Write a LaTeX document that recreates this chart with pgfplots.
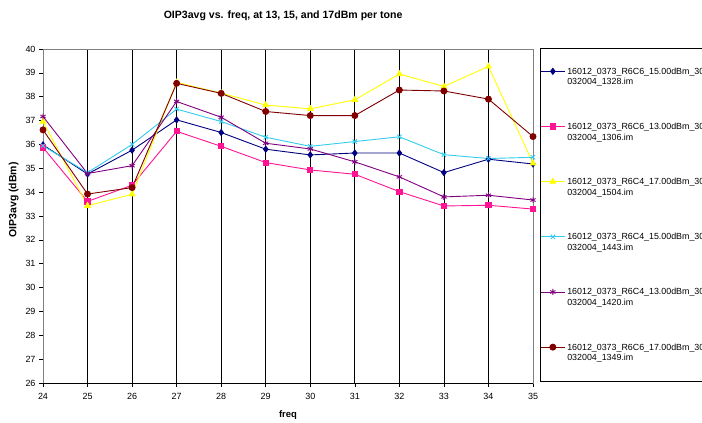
\documentclass[border=0pt]{standalone}
\usepackage{fontspec}
\setmainfont{Liberation Sans}
\usepackage{pgfplots}
\pgfplotsset{compat=1.18}
\definecolor{sNavy}{HTML}{000080}
\definecolor{sPink}{HTML}{FF1493}
\definecolor{sYellow}{HTML}{FFFF00}
\definecolor{sCyan}{HTML}{33CCEE}
\definecolor{sPurple}{HTML}{800080}
\definecolor{sMaroon}{HTML}{800000}
% two-line legend entry
\newcommand{\twoline}[2]{\vbox{\hbox{#1}\hbox{#2}}}
\begin{document}
\begin{tikzpicture}
  \useasboundingbox (0,0) rectangle (702bp,423bp);
  \begin{axis}[
      at={(43bp,40bp)}, anchor=south west,
      scale only axis, width=490bp, height=334bp,
      xmin=24, xmax=35, ymin=26, ymax=40,
      xtick={24,...,35}, ytick={26,...,40},
      tick align=outside, xtick pos=bottom, ytick pos=left,
      major tick length=4bp,
      xmajorgrids=true,
      major grid style={black, line width=0.8bp},
      axis line style={draw=gray, line width=0.8bp},
      tick style={black, line width=0.6bp},
      extra y ticks={26}, extra y tick labels={},
      extra y tick style={grid=major, major grid style={black, line width=0.8bp}},
      /pgf/number format/assume math mode=true,
      ticklabel style={font=\fontsize{9}{10}\selectfont},
      xticklabel style={yshift=-3bp},
      title={\bfseries OIP3avg vs. freq, at 13, 15, and 17dBm per tone},
      title style={font=\fontsize{10.6}{12}\selectfont, at={(0.49,1)}, yshift=19bp, anchor=south},
      xlabel={\bfseries freq},
      xlabel style={font=\fontsize{9.5}{10}\selectfont, yshift=-4bp},
      ylabel={\bfseries OIP3avg (dBm)},
      ylabel style={font=\fontsize{10.5}{12}\selectfont, at={(ticklabel cs:0.548)}, yshift=-8bp},
      every axis plot/.append style={line width=0.9bp, mark options={solid}},
      legend cell align=left,
      legend image code/.code={
        \draw[mark repeat=2, mark phase=2] plot coordinates {(0bp,5.8bp) (12bp,5.8bp) (24bp,5.8bp)};},
      legend style={at={(1.0143,1.003)}, anchor=north west,
        draw=black, line width=0.8bp,
        font=\fontsize{8.9}{10.6}\selectfont,
        row sep=32.7bp, inner xsep=0bp, inner ysep=17.5bp,
        /tikz/every odd column/.append style={column sep=0bp}},
      legend image post style={line width=0.9bp},
    ]
    \addplot[color=sNavy, mark=diamond*, mark size=3bp] coordinates {
      (24,35.98) (25,34.76) (26,35.76) (27,37.03) (28,36.50) (29,35.80)
      (30,35.56) (31,35.64) (32,35.64) (33,34.82) (34,35.38) (35,35.18)};
    \addplot[color=sPink, mark=square*, mark size=2.6bp] coordinates {
      (24,35.87) (25,33.61) (26,34.29) (27,36.55) (28,35.92) (29,35.24)
      (30,34.93) (31,34.75) (32,34.02) (33,33.42) (34,33.45) (35,33.29)};
    \addplot[color=sYellow, mark=triangle*, mark size=3.2bp] coordinates {
      (24,36.96) (25,33.43) (26,33.91) (27,38.60) (28,38.15) (29,37.65)
      (30,37.49) (31,37.87) (32,38.95) (33,38.43) (34,39.27) (35,35.21)};
    \addplot[color=sCyan, mark=x, mark size=3bp] coordinates {
      (24,35.94) (25,34.82) (26,36.00) (27,37.48) (28,36.96) (29,36.30)
      (30,35.92) (31,36.12) (32,36.32) (33,35.57) (34,35.41) (35,35.46)};
    \addplot[color=sPurple, mark=asterisk, mark size=3bp] coordinates {
      (24,37.17) (25,34.78) (26,35.11) (27,37.80) (28,37.14) (29,36.05)
      (30,35.81) (31,35.27) (32,34.64) (33,33.80) (34,33.87) (35,33.67)};
    \addplot[color=sMaroon, mark=*, mark size=3bp] coordinates {
      (24,36.61) (25,33.92) (26,34.19) (27,38.56) (28,38.14) (29,37.38)
      (30,37.21) (31,37.21) (32,38.28) (33,38.24) (34,37.90) (35,36.33)};
    \legend{
      \twoline{16012\_0373\_R6C6\_15.00dBm\_30}{032004\_1328.im},
      \twoline{16012\_0373\_R6C6\_13.00dBm\_30}{032004\_1306.im},
      \twoline{16012\_0373\_R6C4\_17.00dBm\_30}{032004\_1504.im},
      \twoline{16012\_0373\_R6C4\_15.00dBm\_30}{032004\_1443.im},
      \twoline{16012\_0373\_R6C4\_13.00dBm\_30}{032004\_1420.im},
      \twoline{16012\_0373\_R6C6\_17.00dBm\_30}{032004\_1349.im}}
  \end{axis}
\end{tikzpicture}
\end{document}
